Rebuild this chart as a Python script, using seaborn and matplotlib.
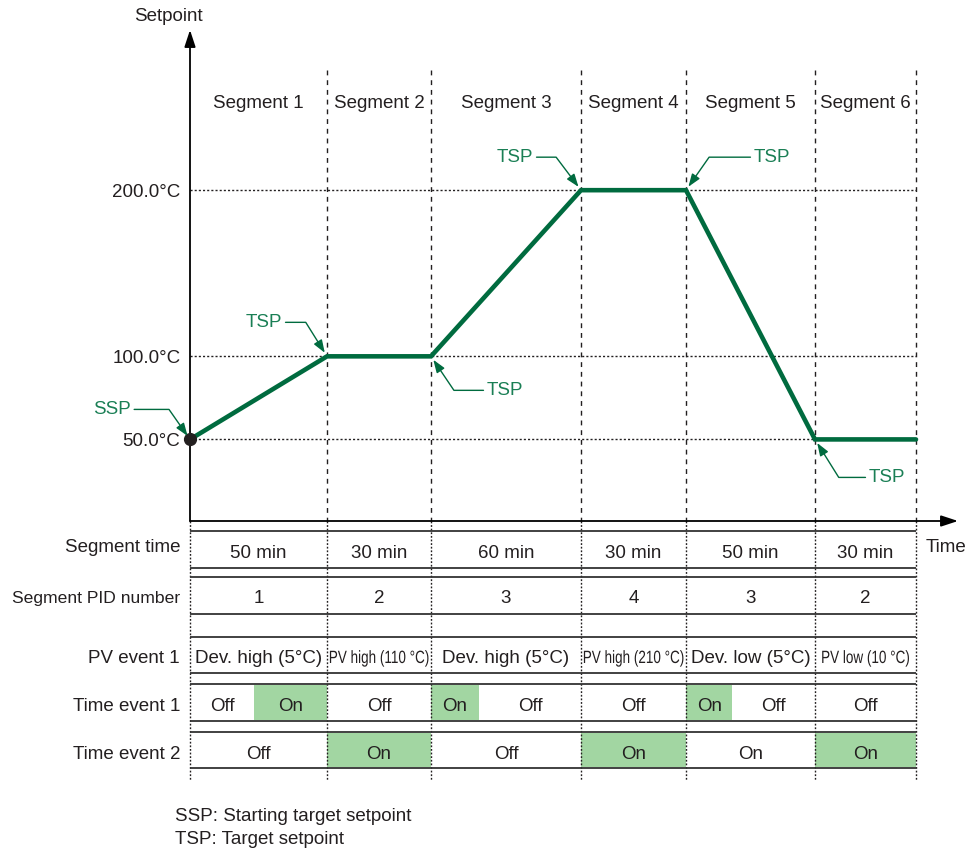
import matplotlib
matplotlib.use("Agg")
import matplotlib.pyplot as plt
from matplotlib.patheffects import AbstractPathEffect
from matplotlib.transforms import Affine2D
import seaborn as sns

# ---- program data ----
segments = ["Segment 1", "Segment 2", "Segment 3", "Segment 4", "Segment 5", "Segment 6"]
segment_minutes = [50, 30, 60, 30, 50, 30]
segment_pid = [1, 2, 3, 4, 3, 2]
pv_event_1 = ["Dev. high (5°C)", "PV high (110 °C)", "Dev. high (5°C)",
              "PV high (210 °C)", "Dev. low (5°C)", "PV low (10 °C)"]
pv_event_narrow = [False, True, False, True, False, True]
setpoint_c = [50, 100, 100, 200, 200, 50, 50]      # setpoint at each segment boundary
setpoint_ticks = [50, 100, 200]
time_event_1 = [["Off", "On"], ["Off"], ["On", "Off"], ["Off"], ["On", "Off"], ["Off"]]
time_event_1_switch = [0.47, None, 0.32, None, 0.36, None]   # fraction of segment where state changes
time_event_2 = ["Off", "On", "Off", "On", "On", "On"]
time_event_2_shaded = [False, True, False, True, False, True]
point_labels = ["SSP", "TSP", "TSP", "TSP", "TSP", "TSP"]   # boundaries 0..5
row_names = ["Segment time", "Segment PID number", "PV event 1", "Time event 1", "Time event 2"]
footnotes = ["SSP: Starting target setpoint", "TSP: Target setpoint"]

# ---- layout (figure pixels) ----
W, H = 976, 852
X0 = 190                                   # time axis origin
seg_edges = [0, 137, 241, 391, 496, 625, 726]
row_top = [531, 577, 637, 684, 732]
row_bot = [568, 614, 673, 721, 768]
row_label_y = [545, 596, 656, 704, 752]
cell_y = [551, 596, 656, 704, 752]
label_offset = [(-78, 30), (-63, 34), (74, -34), (-66, 33), (86, 33), (72, -38)]
label_angle = [-55, -58, -56, -53, 55, -58]
DY = 2.5                                   # visual centring of text

INK = "#231f20"
LINE_GREEN = "#006b3f"
TEXT_GREEN = "#1a7f55"
FILL_GREEN = "#a2d6a2"
FS = 13.5

sns.set_theme(style="white")
plt.rcParams["font.family"] = ["Liberation Sans", "DejaVu Sans"]
plt.rcParams["text.color"] = INK


class Squeeze(AbstractPathEffect):
    """Draw text horizontally condensed about a fixed display x."""

    def __init__(self, sx, cx):
        super().__init__()
        self.sx, self.cx = sx, cx

    def draw_path(self, renderer, gc, tpath, affine, rgbFace=None):
        squeeze = Affine2D().translate(-self.cx, 0).scale(self.sx, 1).translate(self.cx, 0)
        renderer.draw_path(gc, tpath, affine + squeeze, rgbFace)


fig = plt.figure(figsize=(W / 100, H / 100), dpi=100)
bg = fig.add_axes([0, 0, 1, 1])
bg.set_xlim(-X0, W - X0)
bg.set_ylim(H, 0)
bg.axis("off")

# setpoint chart: x in schematic units, y in degC
ax = fig.add_axes([X0 / W, (H - 521) / H, 726 / W, 491 / H])
ax.set_xlim(0, 726)
ax.set_ylim(0.9, 296.4)
ax.patch.set_alpha(0)
for s in ax.spines.values():
    s.set_visible(False)
ax.set_xticks([])
ax.set_yticks(setpoint_ticks, labels=[f"{v:.1f}°C" for v in setpoint_ticks])
ax.tick_params(axis="y", length=0, pad=7, labelsize=FS, labelcolor=INK)
ax.grid(False)

for v in setpoint_ticks:
    ax.axhline(v, xmin=0, xmax=1, color=INK, lw=1.0, ls=(0, (1.5, 1.5)), zorder=1)

sns.lineplot(x=seg_edges, y=setpoint_c, ax=ax, color=LINE_GREEN, lw=3.3, sort=False, zorder=3)
ax.lines[-1].set_clip_on(False)
ax.lines[-1].set_solid_joinstyle("miter")
ax.plot([seg_edges[0]], [setpoint_c[0]], "o", ms=8.5, color=INK, clip_on=False, zorder=5)

# axis arrows
arrow_kw = dict(arrowstyle="-|>,head_length=0.85,head_width=0.28", color="black",
                lw=1.3, shrinkA=0, shrinkB=0, mutation_scale=12)
ax.annotate("", xy=(0, 1.0), xytext=(0, 0), xycoords="axes fraction",
            arrowprops=arrow_kw, annotation_clip=False)
ax.annotate("", xy=(768 / 726, 0), xytext=(0, 0), xycoords="axes fraction",
            arrowprops=arrow_kw, annotation_clip=False)

# SSP / TSP callouts
for i, lab in enumerate(point_labels):
    ax.annotate(lab, xy=(seg_edges[i], setpoint_c[i]), xytext=label_offset[i],
                textcoords="offset pixels", ha="center", va="center",
                color=TEXT_GREEN, fontsize=FS, annotation_clip=False, zorder=6,
                arrowprops=dict(arrowstyle="-|>,head_length=0.55,head_width=0.2",
                                connectionstyle=f"angle,angleA=0,angleB={label_angle[i]},rad=0",
                                color=LINE_GREEN, lw=1.0, shrinkA=0, shrinkB=3,
                                mutation_scale=14))

# segment boundaries
bg.vlines(seg_edges[1:], 70, 521, colors=INK, lw=1.0, linestyles=(0, (3.5, 3.5)))
bg.vlines(seg_edges, 521, 780, colors=INK, lw=1.0, linestyles=(0, (1.3, 1.3)))

mids = [(a + b) / 2 for a, b in zip(seg_edges[:-1], seg_edges[1:])]
for m, name in zip(mids, segments):
    bg.text(m, 101 + DY, name, ha="center", va="center", fontsize=FS)

bg.text(-22, 14 + DY, "Setpoint", ha="center", va="center", fontsize=FS)
bg.text(736, 545 + DY, "Time", ha="left", va="center", fontsize=FS)

# table rows
bg.hlines(row_top, 0, 726, colors="#333333", lw=1.3)
bg.hlines(row_bot, 0, 726, colors="#333333", lw=1.3)
for k, name in enumerate(row_names):
    bg.text(-10, row_label_y[k] + DY, name, ha="right", va="center",
            fontsize=12.6 if k == 1 else FS)

for j in range(len(segments)):
    x0, x1 = seg_edges[j], seg_edges[j + 1]
    bg.text(mids[j], cell_y[0] + DY, f"{segment_minutes[j]} min", ha="center", va="center", fontsize=FS)
    bg.text(mids[j], cell_y[1] + DY, str(segment_pid[j]), ha="center", va="center", fontsize=FS)
    if pv_event_narrow[j]:
        cx = bg.transData.transform((mids[j], cell_y[2]))[0]
        bg.text(mids[j], cell_y[2] + DY, pv_event_1[j], ha="center", va="center",
                fontsize=12.8, path_effects=[Squeeze(0.76, cx)])
    else:
        bg.text(mids[j], cell_y[2] + DY, pv_event_1[j], ha="center", va="center", fontsize=FS)

    # time event 1
    states = time_event_1[j]
    if len(states) == 1:
        parts = [(x0, x1, states[0])]
    else:
        xs = x0 + time_event_1_switch[j] * (x1 - x0)
        parts = [(x0, xs, states[0]), (xs, x1, states[1])]
    for a, b, st in parts:
        if st == "On":
            bg.fill_between([a, b], row_top[3] + 0.8, row_bot[3] - 0.8, color=FILL_GREEN, lw=0, zorder=0)
        bg.text((a + b) / 2, cell_y[3] + DY, st, ha="center", va="center", fontsize=FS)

    # time event 2
    if time_event_2_shaded[j]:
        bg.fill_between([x0, x1], row_top[4] + 0.8, row_bot[4] - 0.8, color=FILL_GREEN, lw=0, zorder=0)
    bg.text(mids[j], cell_y[4] + DY, time_event_2[j], ha="center", va="center", fontsize=FS)

for k, note in enumerate(footnotes):
    bg.text(-15, 814 + 23 * k + DY, note, ha="left", va="center", fontsize=FS)

fig.savefig("out.png", dpi=100)
